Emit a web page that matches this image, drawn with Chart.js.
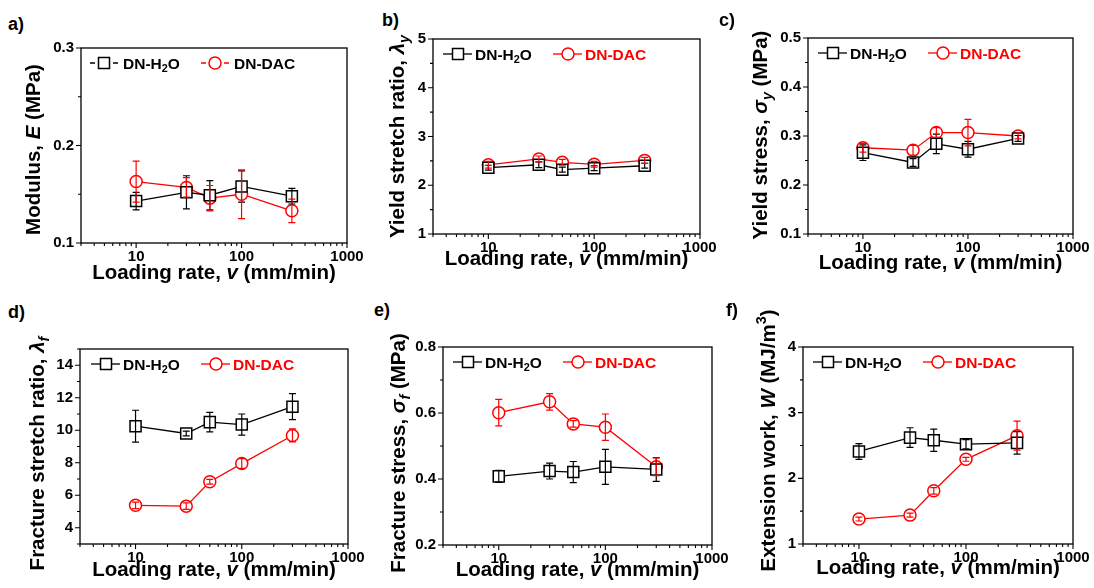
<!DOCTYPE html>
<html>
<head>
<meta charset="utf-8">
<script src="https://cdn.jsdelivr.net/npm/chart.js@4.4.1/dist/chart.umd.min.js"></script>
<style>
    body { margin: 0; width: 1094px; height: 588px; background: #fff; position: relative; overflow: hidden; }
    .panel { position: absolute; }
    .tag { position: absolute; font: bold 18px "Liberation Sans", Arial, sans-serif; line-height: 18px; color: #000; }
</style>
</head>
<body>
<script>
'use strict';

const FONT = '"Liberation Sans", Arial, sans-serif';

// x axis: loading rate (mm/min), log scale
const rates = [10, 30, 50, 100, 300];
const xTickValues = [3, 4, 5, 6, 7, 8, 9, 10, 20, 30, 40, 50, 60, 70, 80, 90, 100, 200, 300, 400, 500, 600, 700, 800, 900, 1000];
const xTickLabels = [10, 100, 1000];

// a) Modulus E (MPa)
const modH2O = [0.143, 0.152, 0.149, 0.158, 0.148];
const modH2OErr = [0.009, 0.017, 0.015, 0.016, 0.008];
const modDAC = [0.163, 0.157, 0.146, 0.150, 0.133];
const modDACErr = [0.021, 0.010, 0.013, 0.025, 0.012];

// b) Yield stretch ratio
const ysrH2O = [2.36, 2.42, 2.32, 2.35, 2.40];
const ysrH2OErr = [0.05, 0.06, 0.05, 0.05, 0.05];
const ysrDAC = [2.42, 2.54, 2.47, 2.43, 2.51];
const ysrDACErr = [0.07, 0.06, 0.06, 0.06, 0.06];

// c) Yield stress (MPa)
const ysH2O = [0.266, 0.246, 0.284, 0.273, 0.295];
const ysH2OErr = [0.016, 0.008, 0.020, 0.016, 0.006];
const ysDAC = [0.276, 0.271, 0.307, 0.307, 0.300];
const ysDACErr = [0.009, 0.010, 0.010, 0.027, 0.006];

// d) Fracture stretch ratio
const fsrH2O = [10.25, 9.8, 10.5, 10.35, 11.45];
const fsrH2OErr = [0.98, 0.15, 0.6, 0.65, 0.8];
const fsrDAC = [5.38, 5.33, 6.83, 7.95, 9.68];
const fsrDACErr = [0.2, 0.2, 0.15, 0.3, 0.4];

// e) Fracture stress (MPa)
const fsH2O = [0.408, 0.424, 0.421, 0.437, 0.429];
const fsH2OErr = [0.018, 0.024, 0.032, 0.053, 0.036];
const fsDAC = [0.601, 0.634, 0.567, 0.557, 0.437];
const fsDACErr = [0.040, 0.025, 0.010, 0.040, 0.027];

// f) Extension work (MJ/m3)
const ewH2O = [2.41, 2.62, 2.58, 2.52, 2.54];
const ewH2OErr = [0.12, 0.15, 0.17, 0.07, 0.17];
const ewDAC = [1.38, 1.44, 1.81, 2.29, 2.65];
const ewDACErr = [0.03, 0.03, 0.05, 0.03, 0.22];

const H2O_LABEL = [{ t: 'DN-H' }, { t: '2', s: 'sub' }, { t: 'O' }];
const DAC_LABEL = [{ t: 'DN-DAC' }];

// plot boxes in page pixels: [left, top, right, bottom]
const panels = [
    { tag: 'a)', tagPos: [8, 15], plot: [81, 48, 347, 243], y: [0.1, 0.3, 0.05, 0.1, 1],
      yTitle: [{ t: 'Modulus, ' }, { t: 'E', i: true }, { t: ' (MPa)' }], yTitleDx: -48, yTitleDy: 4, xTitleDy: 29,
      h2o: modH2O, h2oErr: modH2OErr, dac: modDAC, dacErr: modDACErr, legend: 'dash', dacText: '#000', legX: [23, 134] },
    { tag: 'b)', tagPos: [382, 11], plot: [433, 39, 700, 234], y: [1, 5, 0.5, 1, 0],
      yTitle: [{ t: 'Yield stretch ratio, ' }, { t: 'λ', i: true }, { t: 'y', i: true, s: 'sub' }], yTitleDx: -36, yTitleDy: 0, xTitleDy: 24,
      h2o: ysrH2O, h2oErr: ysrH2OErr, dac: ysrDAC, dacErr: ysrDACErr, legend: 'solid', dacText: '#f00', legX: [25, 135] },
    { tag: 'c)', tagPos: [719, 11], plot: [808, 38, 1073, 234], y: [0.1, 0.5, 0.05, 0.1, 1],
      yTitle: [{ t: 'Yield stress, ' }, { t: 'σ', i: true }, { t: 'y', i: true, s: 'sub' }, { t: ' (MPa)' }], yTitleDx: -48, yTitleDy: -1, xTitleDy: 28,
      h2o: ysH2O, h2oErr: ysH2OErr, dac: ysDAC, dacErr: ysDACErr, legend: 'solid', dacText: '#f00', legX: [25, 135] },
    { tag: 'd)', tagPos: [8, 303], plot: [80, 349, 348, 544], y: [3, 15, 1, 2, 0],
      yTitle: [{ t: 'Fracture stretch ratio, ' }, { t: 'λ', i: true }, { t: 'f', i: true, s: 'sub' }], yTitleDx: -43, yTitleDy: 7, xTitleDy: 25,
      h2o: fsrH2O, h2oErr: fsrH2OErr, dac: fsrDAC, dacErr: fsrDACErr, legend: 'solid', dacText: '#f00', legX: [26, 136] },
    { tag: 'e)', tagPos: [374, 301], plot: [443, 347, 712, 545], y: [0.2, 0.8, 0.1, 0.2, 1],
      yTitle: [{ t: 'Fracture stress, ' }, { t: 'σ', i: true }, { t: 'f', i: true, s: 'sub' }, { t: ' (MPa)' }], yTitleDx: -45, yTitleDy: 7, xTitleDy: 24,
      h2o: fsH2O, h2oErr: fsH2OErr, dac: fsDAC, dacErr: fsDACErr, legend: 'solid', dacText: '#f00', legX: [25, 135] },
    { tag: 'f)', tagPos: [726, 301], plot: [803, 347, 1073, 544], y: [1, 4, 0.5, 1, 0],
      yTitle: [{ t: 'Extension work, ' }, { t: 'W', i: true }, { t: ' (MJ/m' }, { t: '3', s: 'sup' }, { t: ')' }], yTitleDx: -35, yTitleDy: -5, xTitleDy: 23,
      h2o: ewH2O, h2oErr: ewH2OErr, dac: ewDAC, dacErr: ewDACErr, legend: 'solid', dacText: '#f00', legX: [25, 135] }
];

const X_TITLE = [{ t: 'Loading rate, ' }, { t: 'v', i: true }, { t: ' (mm/min)' }];

const PAD = { left: 70, top: 50, right: 25, bottom: 45 };
const TITLE_SIZE = 20.5;
const TICK_SIZE = 15;
const LEGEND_SIZE = 15.5;

function isMajor(v, step) {
    const r = v / step;
    return Math.abs(r - Math.round(r)) < 1e-6;
}

function segFont(seg, size) {
    const sz = seg.s ? size * 0.7 : size;
    return (seg.i ? 'italic ' : '') + 'bold ' + sz + 'px ' + FONT;
}

function richWidth(ctx, segs, size) {
    let w = 0;
    segs.forEach(s => { ctx.font = segFont(s, size); w += ctx.measureText(s.t).width; });
    return w;
}

function drawRich(ctx, segs, x, y, size, color) {
    ctx.textAlign = 'left';
    ctx.textBaseline = 'alphabetic';
    ctx.fillStyle = color;
    segs.forEach(s => {
        ctx.font = segFont(s, size);
        let dy = 0;
        if (s.s === 'sub') dy = size * 0.22;
        if (s.s === 'sup') dy = -size * 0.45;
        ctx.fillText(s.t, x, y + dy);
        x += ctx.measureText(s.t).width;
    });
}

function drawMarker(ctx, style, x, y, color) {
    ctx.save();
    ctx.lineWidth = 1.5;
    ctx.strokeStyle = color;
    ctx.fillStyle = '#fff';
    ctx.beginPath();
    if (style === 'rect') ctx.rect(x - 5.5, y - 5.5, 11, 11);
    else ctx.arc(x, y, 6, 0, Math.PI * 2);
    ctx.fill();
    ctx.stroke();
    ctx.restore();
}

function makeFigPlugin(p) {
    return {
        id: 'fig',
        beforeDatasetsDraw(chart) {
            const ctx = chart.ctx;
            const a = chart.chartArea;
            const xs = chart.scales.x, ys = chart.scales.y;
            ctx.save();
            ctx.strokeStyle = '#000';
            ctx.lineWidth = 1.3;
            ctx.strokeRect(a.left, a.top, a.right - a.left, a.bottom - a.top);
            ctx.lineWidth = 1.1;
            ctx.beginPath();
            ys.ticks.forEach(t => {
                const py = ys.getPixelForValue(t.value);
                const len = isMajor(t.value, p.y[3]) ? 5 : 3;
                ctx.moveTo(a.left, py);
                ctx.lineTo(a.left - len, py);
            });
            xs.ticks.forEach(t => {
                const px = xs.getPixelForValue(t.value);
                const len = xTickLabels.includes(t.value) ? 5 : 3;
                ctx.moveTo(px, a.bottom);
                ctx.lineTo(px, a.bottom + len);
            });
            ctx.stroke();
            ctx.restore();
        },
        afterDatasetsDraw(chart) {
            const ctx = chart.ctx;
            const xs = chart.scales.x, ys = chart.scales.y;
            ctx.save();
            ctx.lineWidth = 1.2;
            chart.data.datasets.forEach(ds => {
                ctx.strokeStyle = ds.borderColor;
                ctx.beginPath();
                ds.errors.forEach((e, i) => {
                    const pt = ds.data[i];
                    const px = xs.getPixelForValue(pt.x);
                    const y1 = ys.getPixelForValue(pt.y + e);
                    const y2 = ys.getPixelForValue(pt.y - e);
                    ctx.moveTo(px, y1); ctx.lineTo(px, y2);
                    ctx.moveTo(px - 3.5, y1); ctx.lineTo(px + 3.5, y1);
                    ctx.moveTo(px - 3.5, y2); ctx.lineTo(px + 3.5, y2);
                });
                ctx.stroke();
            });
            ctx.restore();
        },
        afterDraw(chart) {
            const ctx = chart.ctx;
            const a = chart.chartArea;
            const size = TITLE_SIZE;
            // x title
            const xw = richWidth(ctx, X_TITLE, size);
            drawRich(ctx, X_TITLE, (a.left + a.right) / 2 - xw / 2, a.bottom + p.xTitleDy + size * 0.36, size, '#000');
            // y title
            ctx.save();
            ctx.translate(a.left + p.yTitleDx, (a.top + a.bottom) / 2 + p.yTitleDy);
            ctx.rotate(-Math.PI / 2);
            const yw = richWidth(ctx, p.yTitle, size);
            drawRich(ctx, p.yTitle, -yw / 2, size * 0.36, size, '#000');
            ctx.restore();
            // legend
            const ly = a.top + 15;
            const items = [
                { style: 'rect', color: '#000', text: H2O_LABEL, textColor: '#000' },
                { style: 'circle', color: '#f00', text: DAC_LABEL, textColor: p.dacText }
            ];
            items.forEach((it, k) => {
                const mx = a.left + p.legX[k];
                ctx.save();
                ctx.strokeStyle = it.color;
                ctx.lineWidth = 1.3;
                ctx.beginPath();
                if (p.legend === 'dash') {
                    ctx.moveTo(mx - 14, ly); ctx.lineTo(mx - 9, ly);
                    ctx.moveTo(mx + 9, ly); ctx.lineTo(mx + 14, ly);
                } else {
                    ctx.moveTo(mx - 15, ly); ctx.lineTo(mx + 14, ly);
                }
                ctx.stroke();
                ctx.restore();
                drawMarker(ctx, it.style, mx, ly, it.color);
                drawRich(ctx, it.text, mx + (p.legend === 'dash' ? 19 : 17), ly + LEGEND_SIZE * 0.36, LEGEND_SIZE, it.textColor);
            });
        }
    };
}

function makeDataset(vals, errs, color, style, radius) {
    return {
        data: rates.map((x, i) => ({ x: x, y: vals[i] })),
        errors: errs,
        borderColor: color,
        backgroundColor: '#fff',
        borderWidth: 1.3,
        pointStyle: style,
        pointRadius: radius,
        pointBorderWidth: 1.5,
        pointBackgroundColor: '#fff',
        pointBorderColor: color,
        tension: 0,
        fill: false
    };
}

panels.forEach(p => {
    const [l, t, r, b] = p.plot;
    const w = (r - l) + PAD.left + PAD.right;
    const h = (b - t) + PAD.top + PAD.bottom;

    const tag = document.createElement('div');
    tag.className = 'tag';
    tag.style.left = p.tagPos[0] + 'px';
    tag.style.top = p.tagPos[1] + 'px';
    tag.textContent = p.tag;
    document.body.appendChild(tag);

    const box = document.createElement('div');
    box.className = 'panel';
    box.style.left = (l - PAD.left) + 'px';
    box.style.top = (t - PAD.top) + 'px';
    const canvas = document.createElement('canvas');
    canvas.width = w;
    canvas.height = h;
    canvas.style.width = w + 'px';
    canvas.style.height = h + 'px';
    box.appendChild(canvas);
    document.body.appendChild(box);

    const [yMin, yMax, yStep, yMajor, yDec] = p.y;

    new Chart(canvas, {
        type: 'line',
        data: {
            datasets: [
                makeDataset(p.h2o, p.h2oErr, '#000', 'rect', 7.8),
                makeDataset(p.dac, p.dacErr, '#f00', 'circle', 6)
            ]
        },
        options: {
            responsive: false,
            animation: false,
            devicePixelRatio: 1,
            layout: { padding: { left: 0, top: PAD.top, right: PAD.right, bottom: 0 } },
            plugins: { legend: { display: false }, tooltip: { enabled: false } },
            scales: {
                x: {
                    type: 'logarithmic',
                    min: 3,
                    max: 1000,
                    afterBuildTicks: s => { s.ticks = xTickValues.map(v => ({ value: v })); },
                    afterFit: s => { s.height = PAD.bottom; },
                    grid: { display: false, drawTicks: false },
                    border: { display: false },
                    ticks: {
                        autoSkip: false,
                        maxRotation: 0,
                        padding: 5,
                        color: '#000',
                        font: { family: FONT, size: TICK_SIZE, weight: 'bold' },
                        callback: v => xTickLabels.includes(v) ? String(v) : ''
                    }
                },
                y: {
                    type: 'linear',
                    min: yMin,
                    max: yMax,
                    afterFit: s => { s.width = PAD.left; },
                    grid: { display: false, drawTicks: false },
                    border: { display: false },
                    ticks: {
                        stepSize: yStep,
                        autoSkip: false,
                        padding: 7,
                        color: '#000',
                        font: { family: FONT, size: TICK_SIZE, weight: 'bold' },
                        callback: v => isMajor(v, yMajor) ? v.toFixed(yDec) : ''
                    }
                }
            }
        },
        plugins: [makeFigPlugin(p)]
    });
});
</script>
</body>
</html>
